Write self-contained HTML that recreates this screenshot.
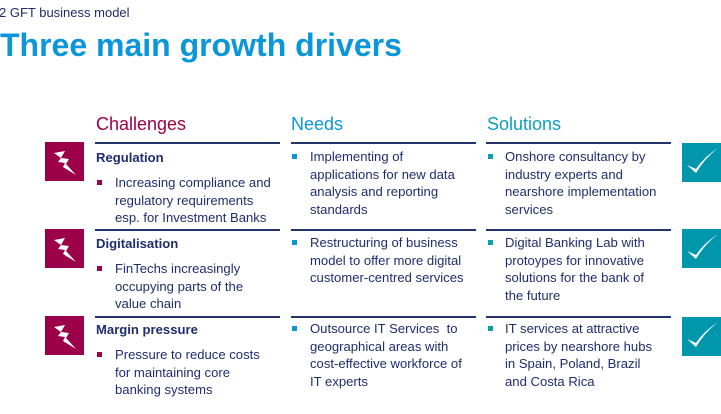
<!DOCTYPE html>
<html><head><style>
body{margin:0;width:721px;height:414px;background:#fff;position:relative;overflow:hidden;font-family:"Liberation Sans",Arial,sans-serif;color:#1f2d6e}
.a{position:absolute}
.sub{left:-1px;top:5px;font-size:13px;color:#1f2d6e}
.title{left:0;top:27px;font-size:32px;font-weight:bold;color:#0a96d8;letter-spacing:0}
.h{font-size:18px;top:114px}
.ln{height:2px;background:#24336e}
.t{font-size:13.1px;line-height:17.5px}
.sq{width:5px;height:5px}
b{font-weight:bold}
</style></head><body>
<div class="a sub">2 GFT business model</div>
<div class="a title">Three main growth drivers</div>
<div class="a h" style="left:96px;color:#9b0048">Challenges</div>
<div class="a h" style="left:291px;color:#0a96d8">Needs</div>
<div class="a h" style="left:487px;color:#0a9fc0">Solutions</div>

<div class="a ln" style="left:95px;top:142px;width:185px"></div>
<div class="a ln" style="left:291px;top:142px;width:185px"></div>
<div class="a ln" style="left:486px;top:142px;width:185px"></div>
<div class="a ln" style="left:95px;top:229px;width:185px"></div>
<div class="a ln" style="left:291px;top:229px;width:185px"></div>
<div class="a ln" style="left:486px;top:229px;width:185px"></div>
<div class="a ln" style="left:95px;top:316px;width:185px"></div>
<div class="a ln" style="left:291px;top:316px;width:185px"></div>
<div class="a ln" style="left:486px;top:316px;width:185px"></div>

<svg class="a" style="left:45px;top:142px" width="39" height="39"><rect width="39" height="39" fill="#9b0048"/><path d="M9 11 L20 9 L16 16 L24 17 L21 22 L31 33 L18 25 L20 21 L13 20 L16 16 Z" fill="#fff"/></svg>
<svg class="a" style="left:45px;top:229px" width="39" height="39"><rect width="39" height="39" fill="#9b0048"/><path d="M9 11 L20 9 L16 16 L24 17 L21 22 L31 33 L18 25 L20 21 L13 20 L16 16 Z" fill="#fff"/></svg>
<svg class="a" style="left:45px;top:316px" width="39" height="39"><rect width="39" height="39" fill="#9b0048"/><path d="M9 11 L20 9 L16 16 L24 17 L21 22 L31 33 L18 25 L20 21 L13 20 L16 16 Z" fill="#fff"/></svg>
<svg class="a" style="left:682px;top:143px" width="39" height="39"><rect width="39" height="39" fill="#0096ac"/><path d="M5 22 L14 30 Q22 16 36 5 Q22 14 14 26 Z" fill="#fff"/></svg>
<svg class="a" style="left:682px;top:229px" width="39" height="39"><rect width="39" height="39" fill="#0096ac"/><path d="M5 22 L14 30 Q22 16 36 5 Q22 14 14 26 Z" fill="#fff"/></svg>
<svg class="a" style="left:682px;top:317px" width="39" height="39"><rect width="39" height="39" fill="#0096ac"/><path d="M5 22 L14 30 Q22 16 36 5 Q22 14 14 26 Z" fill="#fff"/></svg>

<div class="a t" style="left:96px;top:149px"><b>Regulation</b></div>
<div class="a sq" style="left:97px;top:180px;background:#9b0048"></div>
<div class="a t" style="left:115px;top:174px">Increasing compliance and<br>regulatory requirements<br>esp. for Investment Banks</div>
<div class="a sq" style="left:292px;top:154px;background:#0a96d8"></div>
<div class="a t" style="left:310px;top:148px">Implementing of<br>applications for new data<br>analysis and reporting<br>standards</div>
<div class="a sq" style="left:488px;top:154px;background:#0a9fb0"></div>
<div class="a t" style="left:505px;top:148px">Onshore consultancy by<br>industry experts and<br>nearshore implementation<br>services</div>

<div class="a t" style="left:96px;top:235px"><b>Digitalisation</b></div>
<div class="a sq" style="left:97px;top:266px;background:#9b0048"></div>
<div class="a t" style="left:115px;top:260px">FinTechs increasingly<br>occupying parts of the<br>value chain</div>
<div class="a sq" style="left:292px;top:240px;background:#0a96d8"></div>
<div class="a t" style="left:310px;top:234px">Restructuring of business<br>model to offer more digital<br>customer-centred services</div>
<div class="a sq" style="left:488px;top:240px;background:#0a9fb0"></div>
<div class="a t" style="left:505px;top:234px">Digital Banking Lab with<br>protoypes for innovative<br>solutions for the bank of<br>the future</div>

<div class="a t" style="left:96px;top:321px"><b>Margin pressure</b></div>
<div class="a sq" style="left:97px;top:352px;background:#9b0048"></div>
<div class="a t" style="left:115px;top:346px">Pressure to reduce costs<br>for maintaining core<br>banking systems</div>
<div class="a sq" style="left:292px;top:326px;background:#0a96d8"></div>
<div class="a t" style="left:310px;top:320px">Outsource IT Services&nbsp; to<br>geographical areas with<br>cost-effective workforce of<br>IT experts</div>
<div class="a sq" style="left:488px;top:326px;background:#0a9fb0"></div>
<div class="a t" style="left:505px;top:320px">IT services at attractive<br>prices by nearshore hubs<br>in Spain, Poland, Brazil<br>and Costa Rica</div>
</body></html>
